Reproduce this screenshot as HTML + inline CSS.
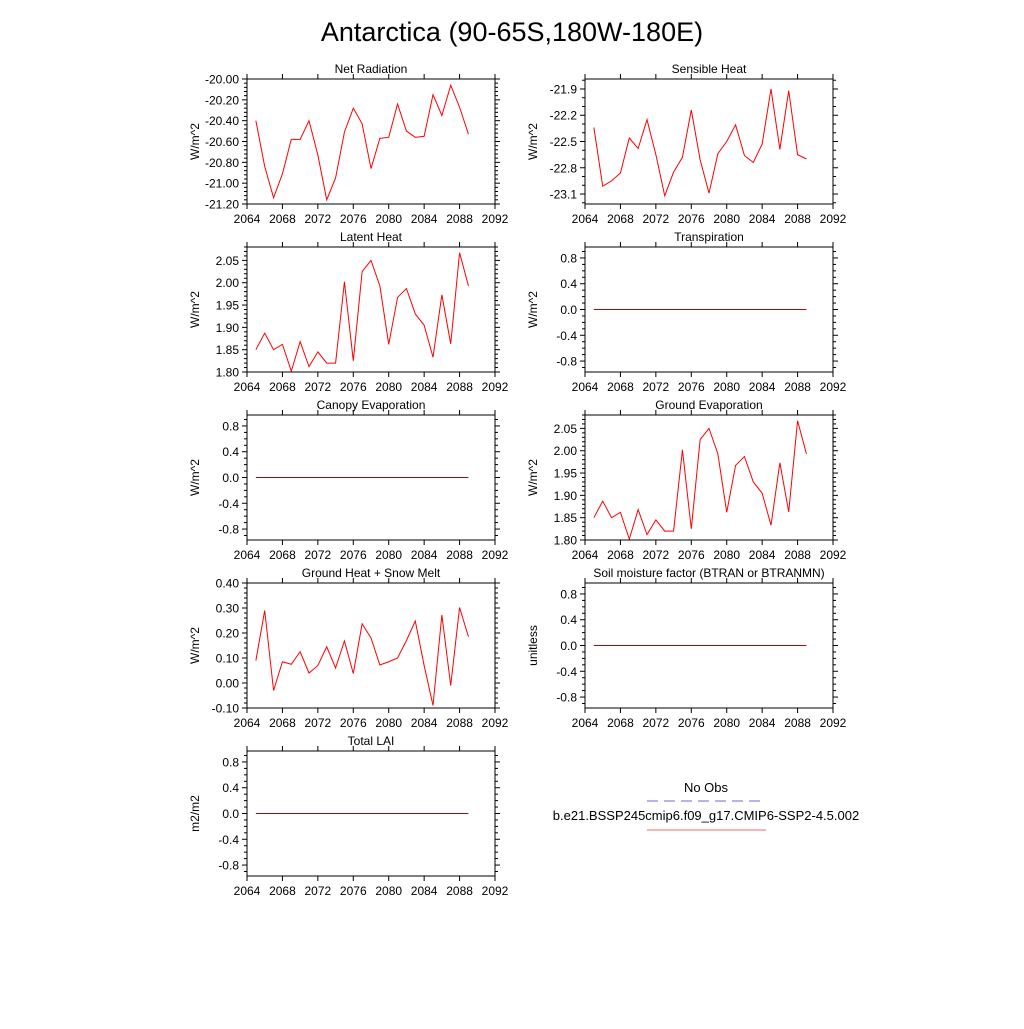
<!DOCTYPE html>
<html><head><meta charset="utf-8"><style>
body{margin:0;background:#fff;width:1024px;height:1024px;overflow:hidden}
svg{font-family:"Liberation Sans",sans-serif}
</style></head><body>
<svg id="fig" width="1024" height="1024" viewBox="0 0 1024 1024">
<text x="512" y="41" font-size="27" text-anchor="middle">Antarctica (90-65S,180W-180E)</text>
<g>
<text x="706" y="792" font-size="13" text-anchor="middle">No Obs</text>
<line x1="647" y1="801" x2="766" y2="801" stroke="#6a6ae8" stroke-width="1" stroke-dasharray="11,6"/>
<text x="706" y="820" font-size="13" text-anchor="middle">b.e21.BSSP245cmip6.f09_g17.CMIP6-SSP2-4.5.002</text>
<line x1="647" y1="830" x2="766" y2="830" stroke="#f08a8a" stroke-width="1.2"/>
</g>
</svg>
<script>
const years = [2065,2066,2067,2068,2069,2070,2071,2072,2073,2074,2075,2076,2077,2078,2079,2080,2081,2082,2083,2084,2085,2086,2087,2088,2089];
const xTicks = [2064,2068,2072,2076,2080,2084,2088,2092];
const netRad = [-20.40,-20.84,-21.14,-20.91,-20.58,-20.58,-20.40,-20.73,-21.16,-20.95,-20.51,-20.28,-20.43,-20.86,-20.57,-20.56,-20.24,-20.50,-20.56,-20.55,-20.15,-20.35,-20.06,-20.27,-20.53];
const sensible = [-22.34,-23.01,-22.95,-22.86,-22.46,-22.58,-22.25,-22.65,-23.12,-22.85,-22.68,-22.14,-22.71,-23.09,-22.64,-22.50,-22.31,-22.66,-22.74,-22.53,-21.90,-22.59,-21.92,-22.65,-22.70];
const latent = [1.850,1.887,1.850,1.862,1.802,1.868,1.812,1.845,1.820,1.820,2.002,1.825,2.025,2.050,1.993,1.862,1.967,1.987,1.930,1.905,1.833,1.973,1.863,2.067,1.993];
const groundHeat = [0.09,0.29,-0.03,0.085,0.075,0.125,0.04,0.07,0.145,0.06,0.168,0.038,0.237,0.18,0.072,0.085,0.10,0.17,0.248,0.07,-0.09,0.272,-0.01,0.302,0.185];
const zeros = [0,0,0,0,0,0,0,0,0,0,0,0,0,0,0,0,0,0,0,0,0,0,0,0];
zeros.push(0);
const tickNetRad = [-21.2,-21.0,-20.8,-20.6,-20.4,-20.2,-20.0];
const tickSensible = [-23.1,-22.8,-22.5,-22.2,-21.9];
const tickLatent = [1.80,1.85,1.90,1.95,2.00,2.05];
const tickGround = [-0.1,0,0.1,0.2,0.3,0.4];
const tickZero = [-0.8,-0.4,0,0.4,0.8];

const NS="http://www.w3.org/2000/svg";
const svg=document.getElementById('fig');
function mk(tag,attrs,parent){const e=document.createElementNS(NS,tag);for(const k in attrs)e.setAttribute(k,attrs[k]);parent.appendChild(e);return e;}

const panels=[
 {name:'net-radiation',title:'Net Radiation',x:247,y:79,data:netRad,ymin:-21.2,ymax:-20.0,ticks:tickNetRad,dec:2,minor:4,ylab:'W/m^2'},
 {name:'sensible-heat',title:'Sensible Heat',x:585,y:79,data:sensible,ymin:-23.214,ymax:-21.786,ticks:tickSensible,dec:1,minor:2,ylab:'W/m^2'},
 {name:'latent-heat',title:'Latent Heat',x:247,y:247,data:latent,ymin:1.80,ymax:2.08,ticks:tickLatent,dec:2,minor:4,ylab:'W/m^2'},
 {name:'transpiration',title:'Transpiration',x:585,y:247,data:zeros,ymin:-0.97,ymax:0.97,ticks:tickZero,dec:1,minor:3,ylab:'W/m^2'},
 {name:'canopy-evaporation',title:'Canopy Evaporation',x:247,y:415,data:zeros,ymin:-0.97,ymax:0.97,ticks:tickZero,dec:1,minor:3,ylab:'W/m^2'},
 {name:'ground-evaporation',title:'Ground Evaporation',x:585,y:415,data:latent,ymin:1.80,ymax:2.08,ticks:tickLatent,dec:2,minor:4,ylab:'W/m^2'},
 {name:'ground-heat-snow-melt',title:'Ground Heat + Snow Melt',x:247,y:583,data:groundHeat,ymin:-0.1,ymax:0.4,ticks:tickGround,dec:2,minor:4,ylab:'W/m^2'},
 {name:'soil-moisture-factor',title:'Soil moisture factor (BTRAN or BTRANMN)',x:585,y:583,data:zeros,ymin:-0.97,ymax:0.97,ticks:tickZero,dec:1,minor:3,ylab:'unitless'},
 {name:'total-lai',title:'Total LAI',x:247,y:751,data:zeros,ymin:-0.97,ymax:0.97,ticks:tickZero,dec:1,minor:3,ylab:'m2/m2'}
];
const W=248,H=125;
panels.forEach(p=>{
 const g=mk('g',{},svg);
 
 
 const xs=v=>p.x+(v-2064)/(2092-2064)*W;
 const ys=v=>p.y+H-(v-p.ymin)/(p.ymax-p.ymin)*H;
 const t=mk('text',{x:p.x+W/2,y:p.y-6,'font-size':12,'text-anchor':'middle'},g);
 t.textContent=p.title;
 
 
 // x ticks
 xTicks.forEach(v=>{
  const X=xs(v);
  mk('line',{x1:X,y1:p.y+H,x2:X,y2:p.y+H+5,stroke:'#000','stroke-width':1},g);
  mk('line',{x1:X,y1:p.y,x2:X,y2:p.y-5,stroke:'#000','stroke-width':1},g);
  const l=mk('text',{x:X,y:p.y+H+19,'font-size':12,'text-anchor':'middle'},g);
  l.textContent=v;
  
  
 });
 // y ticks
 const step=p.ticks[1]-p.ticks[0];
 for(let i=-1;i<p.ticks.length;i++){
  const base=p.ticks[0]+i*step;
  for(let m=1;m<=p.minor;m++){
   const v=base+m*step/(p.minor+1);
   if(v<p.ymin-1e-9||v>p.ymax+1e-9)continue;
   const Y=ys(v);
   mk('line',{x1:p.x,y1:Y,x2:p.x-3,y2:Y,stroke:'#000','stroke-width':1},g);
   mk('line',{x1:p.x+W,y1:Y,x2:p.x+W+3,y2:Y,stroke:'#000','stroke-width':1},g);
  }
 }
 p.ticks.forEach(v=>{
  const Y=ys(v);
  mk('line',{x1:p.x,y1:Y,x2:p.x-5,y2:Y,stroke:'#000','stroke-width':1},g);
  mk('line',{x1:p.x+W,y1:Y,x2:p.x+W+5,y2:Y,stroke:'#000','stroke-width':1},g);
  const l=mk('text',{x:p.x-8,y:Y+4.5,'font-size':12,'text-anchor':'end'},g);
  l.textContent=v.toFixed(p.dec);
  
  
 });
 const yl=mk('text',{x:0,y:0,'font-size':12,'text-anchor':'middle',transform:`translate(${p.x-48},${p.y+H/2}) rotate(-90)`},g);
 yl.textContent=p.ylab;
 
 
 const pts=years.map((yr,i)=>xs(yr).toFixed(2)+','+ys(p.data[i]).toFixed(2)).join(' ');
 const pl=mk('polyline',{points:pts,fill:'none',stroke:p.data===zeros?'#a01010':'#ff0000','stroke-width':1},g);
 
 
 const fr=mk('rect',{x:p.x,y:p.y,width:W,height:H,fill:'none',stroke:'#000','stroke-width':1},g);
 
 
});
</script>
</body></html>
